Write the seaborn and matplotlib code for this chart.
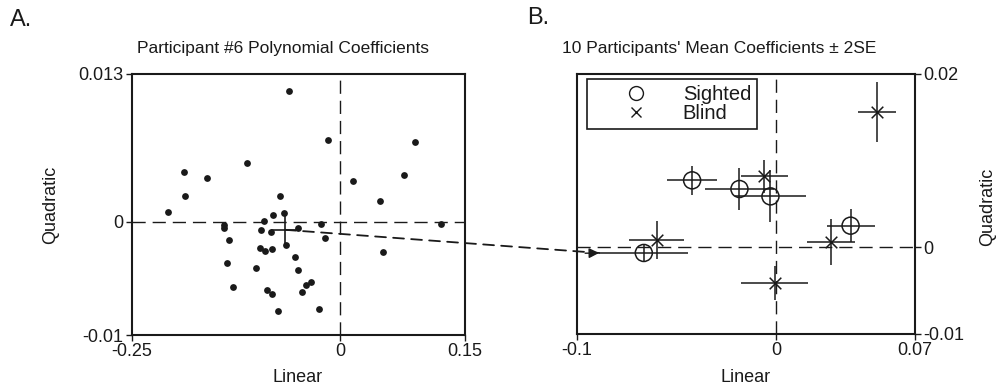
import numpy as np
import matplotlib
matplotlib.use('Agg')
import matplotlib.pyplot as plt
from matplotlib.patches import ConnectionPatch
from matplotlib.lines import Line2D
import seaborn as sns

# Panel A: participant #6 single-trial coefficients
a_linear = [-0.0613, -0.0140, -0.1118, -0.1871, -0.1599, -0.1867, -0.0725, -0.2071,
            -0.0805, -0.0677, -0.0917, -0.1398, -0.1398, -0.0954, -0.0825, -0.0501,
            -0.0228, -0.0176, -0.1338, -0.0649, -0.0966, -0.0897, -0.0817, -0.0537,
            -0.1358, -0.1010, -0.0509, -0.0353, -0.0413, -0.1282, -0.0881, -0.0813,
            -0.0457, -0.0741, -0.0248, 0.0901, 0.0769, 0.0156, 0.0477, 0.1206, 0.0521]
a_quadratic = [0.01151, 0.00720, 0.00517, 0.00435, 0.00385, 0.00226, 0.00226, 0.00088,
               0.00056, 0.00076, 0.00009, -0.00029, -0.00059, -0.00073, -0.00088, -0.00056,
               -0.00021, -0.00147, -0.00167, -0.00206, -0.00235, -0.00258, -0.00241, -0.00314,
               -0.00367, -0.00408, -0.00429, -0.00532, -0.00558, -0.00579, -0.00602, -0.00640,
               -0.00617, -0.00790, -0.00775, 0.00702, 0.00412, 0.00361, 0.00182, -0.00020, -0.00267]
p6_mean = (-0.0661, -0.00073)
p6_err = (0.017, 0.00144)

# Panel B: participant means +/- 2SE
sighted_lin = [-0.0664, -0.0421, -0.0183, -0.0027, 0.0376]
sighted_quad = [-0.00065, 0.00773, 0.00673, 0.00588, 0.00250]
sighted_lin_err = [0.0224, 0.0127, 0.0173, 0.0180, 0.0121]
sighted_quad_err = [0.00105, 0.00167, 0.0024, 0.0030, 0.00188]
blind_lin = [-0.0600, -0.0057, 0.0278, 0.0508, -0.0005]
blind_quad = [0.00081, 0.00819, 0.00062, 0.01558, -0.00412]
blind_lin_err = [0.0140, 0.0118, 0.0121, 0.0097, 0.0168]
blind_quad_err = [0.0022, 0.0019, 0.0027, 0.00346, 0.0020]
arrow_tip = (-0.0889, -0.00065)

a_xticks, a_xlabels = [-0.25, 0, 0.15], ['-0.25', '0', '0.15']
a_yticks, a_ylabels = [-0.01, 0, 0.013], ['-0.01', '0', '0.013']
b_xticks, b_xlabels = [-0.1, 0, 0.07], ['-0.1', '0', '0.07']
b_yticks, b_ylabels = [-0.01, 0, 0.02], ['-0.01', '0', '0.02']

sns.set_theme(style='white')
plt.rcParams['font.family'] = ['Liberation Sans', 'DejaVu Sans']
plt.rcParams['text.color'] = '#1a1a1a'

W, H = 996, 389
fig = plt.figure(figsize=(W / 100, H / 100), dpi=100)


def px_axes(l, t, r, b):
    return fig.add_axes([l / W, 1 - b / H, (r - l) / W, (b - t) / H])


axA = px_axes(132, 74, 465, 335)
axB = px_axes(577, 74, 915, 334)

dash = (0, (9.5, 5))
for ax in (axA, axB):
    ax.axhline(0, color='k', lw=1, ls=dash, zorder=1)
    ax.axvline(0, color='k', lw=1, ls=dash, zorder=1)
    for s in ax.spines.values():
        s.set_color('k')
        s.set_linewidth(1.5)
    ax.tick_params(direction='out', length=4, width=1, colors='k', labelsize=13,
                   labelcolor='#1a1a1a', pad=2)

# Panel A
sns.scatterplot(x=a_linear, y=a_quadratic, ax=axA, color='k', s=24, linewidth=0, zorder=3)
axA.errorbar(p6_mean[0], p6_mean[1], xerr=p6_err[0], yerr=p6_err[1], fmt='none',
             ecolor='k', elinewidth=1.2, capsize=0, zorder=4)
axA.set_xlim(-0.25, 0.15)
axA.set_ylim(-0.01, 0.013)
axA.set_xticks(a_xticks, a_xlabels)
axA.set_yticks(a_yticks, a_ylabels)
axA.tick_params(left=True, bottom=True)

# Panel B
axB.errorbar(sighted_lin, sighted_quad, xerr=sighted_lin_err, yerr=sighted_quad_err,
             fmt='none', ecolor='k', elinewidth=1.1, capsize=0, zorder=2)
axB.errorbar(blind_lin, blind_quad, xerr=blind_lin_err, yerr=blind_quad_err,
             fmt='none', ecolor='k', elinewidth=1.1, capsize=0, zorder=2)
sns.scatterplot(x=sighted_lin, y=sighted_quad, ax=axB, marker='o', s=150,
                facecolors='none', edgecolor='k', linewidth=1.1, zorder=3)
sns.scatterplot(x=blind_lin, y=blind_quad, ax=axB, marker='x', s=70,
                color='k', linewidth=1.1, zorder=3)
axB.set_xlim(-0.1, 0.07)
axB.set_ylim(-0.01, 0.02)
axB.set_xticks(b_xticks, b_xlabels)
axB.set_yticks(b_yticks, b_ylabels)
axB.yaxis.tick_right()
axB.tick_params(right=True, left=False, bottom=True)

handles = [Line2D([], [], ls='none', marker='o', mfc='none', mec='k', ms=10, mew=1),
           Line2D([], [], ls='none', marker='x', color='k', ms=7, mew=1)]
leg = axB.legend(handles, ['Sighted', 'Blind'], loc='upper left',
                 bbox_to_anchor=(0.03, 0.98), borderaxespad=0, frameon=True,
                 fancybox=False, edgecolor='k', framealpha=1, fontsize=14.5,
                 handlelength=4.3, handletextpad=0.15, borderpad=0.3, labelspacing=0.0)
leg.get_frame().set_linewidth(1.2)

# dashed arrow from participant #6 mean to its point in panel B
con = ConnectionPatch(xyA=p6_mean, coordsA=axA.transData, xyB=arrow_tip,
                      coordsB=axB.transData, color='k', lw=1.3, ls=(0, (6, 4)),
                      arrowstyle='-', zorder=5)
fig.add_artist(con)
axB.annotate('', xy=arrow_tip, xytext=(arrow_tip[0] - 0.007, arrow_tip[1] - 0.00003),
             arrowprops=dict(arrowstyle='-|>', color='k', lw=1, mutation_scale=15,
                             shrinkA=0, shrinkB=0))

# text
fig.text(10 / W, 1 - 20 / H, 'A.', fontsize=17, va='center', ha='left')
fig.text(527 / W, 1 - 18 / H, 'B.', fontsize=17, va='center', ha='left')
fig.text(283 / W, 1 - 48 / H, 'Participant #6 Polynomial Coefficients', fontsize=12.5,
         ha='center', va='center')
fig.text(719 / W, 1 - 48 / H, "10 Participants' Mean Coefficients \u00b1 2SE", fontsize=12.5,
         ha='center', va='center')
fig.text(298 / W, 1 - 378 / H, 'Linear', fontsize=13, ha='center', va='center')
fig.text(746 / W, 1 - 378 / H, 'Linear', fontsize=13, ha='center', va='center')
fig.text(51 / W, 1 - 205 / H, 'Quadratic', fontsize=13, ha='center', va='center', rotation=90)
fig.text(988 / W, 1 - 207 / H, 'Quadratic', fontsize=13, ha='center', va='center', rotation=90)

fig.savefig('out.png', dpi=100)
